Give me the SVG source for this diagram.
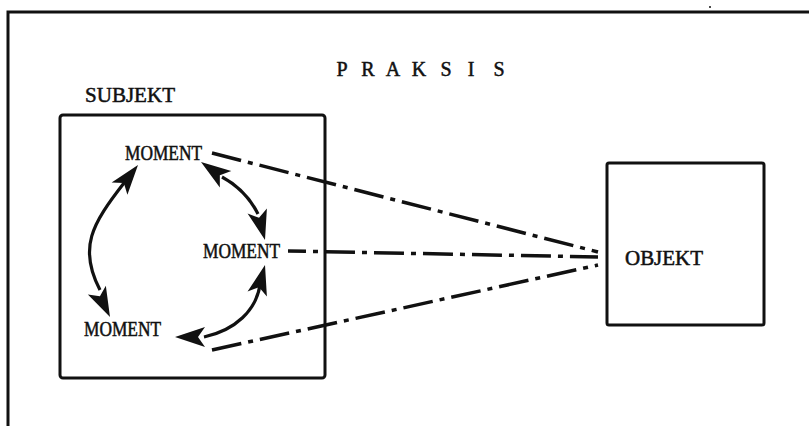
<svg xmlns="http://www.w3.org/2000/svg" xmlns:xlink="http://www.w3.org/1999/xlink" width="809" height="426" viewBox="0 0 809 426">
<style>
  .t { font-family: "Liberation Serif", "Times New Roman", serif; font-size: 20px; fill: #111; stroke: #111; stroke-width: 0.5; }
  .box { fill: none; stroke: #111; stroke-width: 3; }
  .dd { fill: none; stroke: #111; stroke-width: 3.5; stroke-dasharray: 30 7 5 7; }
  .arc { fill: none; stroke: #111; stroke-width: 3.2; }
</style>
<defs>
  <path id="head" d="M0,0 L-30,-10 L-23,0 L-30,10 z" fill="#111"/>
</defs>
<rect width="809" height="426" fill="#fff"/>
<g id="frame">
  <path d="M8,426 L8,12 L809,12" class="box"/>
  <circle cx="710" cy="7" r="1" fill="#111"/>
</g>
<text id="praksis" class="t" x="342 368 393 419 446 471 499" y="76" text-anchor="middle">PRAKSIS</text>
<g id="subjekt">
  <rect x="60" y="115" width="265" height="263" rx="3" class="box"/>
  <text class="t" x="85" y="102" textLength="90" lengthAdjust="spacingAndGlyphs">SUBJEKT</text>
</g>
<g id="moment1"><text class="t" x="125" y="160" textLength="77" lengthAdjust="spacingAndGlyphs">MOMENT</text></g>
<g id="moment2"><text class="t" x="203" y="258" textLength="77" lengthAdjust="spacingAndGlyphs">MOMENT</text></g>
<g id="moment3"><text class="t" x="84" y="336" textLength="77" lengthAdjust="spacingAndGlyphs">MOMENT</text></g>
<g id="objekt">
  <rect x="607" y="163" width="157" height="162" rx="2" class="box"/>
  <text class="t" x="625" y="265" textLength="78" lengthAdjust="spacingAndGlyphs">OBJEKT</text>
</g>
<g id="connectors">
  <path class="arc" d="M124,183 C92,224 78,248 100,290"/>
  <use xlink:href="#head" href="#head" transform="translate(138,165) rotate(-52)"/>
  <use xlink:href="#head" href="#head" transform="translate(110,317) rotate(64)"/>
  <path class="arc" d="M222,177 Q246,190 258,214"/>
  <use xlink:href="#head" href="#head" transform="translate(201,162) rotate(-145)"/>
  <use xlink:href="#head" href="#head" transform="translate(265,240) rotate(75)"/>
  <path class="arc" d="M260,285 C256,310 236,330 204,337"/>
  <use xlink:href="#head" href="#head" transform="translate(265,265) rotate(-75)"/>
  <use xlink:href="#head" href="#head" transform="translate(175,337) rotate(180)"/>
  <path class="dd" d="M212,153 L598,252"/>
  <path class="dd" d="M288,251 L598,257" stroke-dashoffset="-37"/>
  <path class="dd" d="M212,350 L598,265"/>
</g>
</svg>
